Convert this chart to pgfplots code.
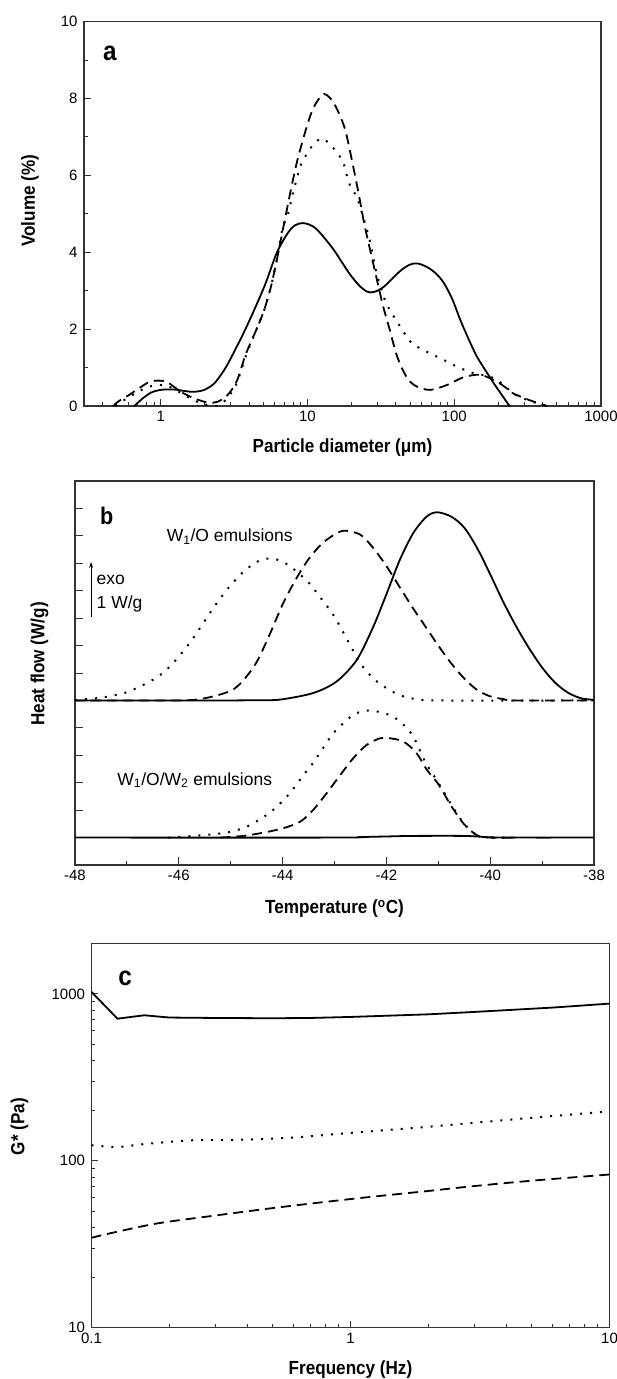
\documentclass[border=0pt]{standalone}
\usepackage{pgfplots}
\pgfplotsset{compat=1.18}
\usepackage{fontspec}
\setmainfont{Liberation Sans}
\newfontfamily\condf[FakeStretch=0.9]{Liberation Sans}
\usetikzlibrary{arrows.meta}
\tikzset{annot/.style={font=\fontsize{17.5}{19}\selectfont}}
\pgfplotsset{
 myaxis/.style={scale only axis, axis line style={line width=1.2pt, black!80},
   every tick/.style={line width=1pt, black!80}, tick pos=left, tick align=inside,
   major tick length=7pt, minor tick length=4pt,
   tick label style={font=\fontsize{15}{17}\selectfont},
   xticklabel style={yshift=-1.5pt},
   yticklabel style={xshift=-3pt},
   label style={font=\condf\bfseries\fontsize{19}{21}\selectfont},
   /pgf/number format/assume math mode=true},
 solidl/.style={black, line width=1.8pt, smooth, tension=0.5},
 dashl/.style={black, line width=1.8pt, dash pattern=on 10pt off 6pt, smooth, tension=0.5},
 dotl/.style={black, line width=2pt, dash pattern=on 2pt off 8pt, smooth, tension=0.5},
}
\begin{document}
\begin{tikzpicture}
% ---------------- panel a
\begin{axis}[myaxis, at={(84pt,-406pt)}, anchor=south west, width=517pt, height=384.3pt,
  xmode=log, xmin=0.3, xmax=1000, ymin=0, ymax=10,
  xtick={1,10,100,1000}, xticklabels={1,10,100,1000},
  minor xtick={0.3,0.4,0.5,0.6,0.7,0.8,0.9,2,3,4,5,6,7,8,9,20,30,40,50,60,70,80,90,200,300,400,500,600,700,800,900},
  ytick={0,2,4,6,8,10}, minor ytick={1,3,5,7,9},
  xlabel={Particle diameter (μm)}, ylabel={Volume (\%)},
  xlabel style={at={([yshift=-42pt]axis description cs:0.5,0)}, anchor=center},
  ylabel style={at={([xshift=-54pt,yshift=13pt]axis description cs:0,0.5)}, anchor=center}]
\addplot[solidl] coordinates {(0.66,0) (0.755,0.2) (0.86,0.35) (1.0,0.42) (1.24,0.43) (1.45,0.39) (1.69,0.37) (1.98,0.42) (2.32,0.59) (2.71,0.94) (3.0,1.24) (3.8,2.02) (5.07,3.10) (6.15,3.97) (7.31,4.49) (8.2,4.70) (9.25,4.76) (10.3,4.72) (11.4,4.62) (13.0,4.38) (15.2,4.05) (17.3,3.72) (19.7,3.40) (23.0,3.10) (26.2,2.96) (30.0,3.0) (34,3.14) (43,3.52) (50,3.68) (56,3.71) (65,3.62) (75,3.45) (85,3.20) (97,2.78) (110,2.24) (126,1.72) (143,1.28) (165,0.90) (186,0.59) (210,0.30) (235,0.03) (240,0)};
\addplot[dashl] coordinates {(0.476,0) (0.51,0.11) (0.61,0.29) (0.71,0.46) (0.84,0.63) (0.98,0.66) (1.12,0.61) (1.37,0.37) (1.69,0.20) (2.09,0.09) (2.44,0.11) (2.86,0.29) (3.3,0.65) (3.8,1.35) (4.57,2.06) (5.07,2.50) (5.63,3.10) (6.25,3.89) (6.93,4.75) (7.7,5.62) (8.54,6.40) (9.73,7.18) (10.8,7.70) (12.0,8.00) (13.0,8.12) (14.2,8.02) (15.6,7.79) (17.8,7.27) (19.2,6.75) (22.1,5.61) (24.5,4.70) (27.7,3.80) (32.4,2.67) (35.9,2.06) (40.9,1.28) (47.9,0.72) (56,0.50) (69,0.42) (89.6,0.55) (116,0.75) (151,0.81) (196,0.63) (235,0.42) (251,0.33) (322,0.16) (412,0.02) (430,0)};
\addplot[dotl] coordinates {(0.49,0) (0.55,0.13) (0.65,0.3) (0.78,0.46) (0.95,0.55) (1.15,0.5) (1.4,0.32) (1.75,0.12) (2.1,0.02) (2.5,0.02) (2.9,0.25) (3.3,0.60) (3.8,1.30) (4.57,2.06) (5.07,2.50) (5.63,3.10) (6.25,3.89) (6.76,4.62) (7.38,5.01) (7.9,5.49) (8.3,5.80) (9.0,6.27) (9.9,6.56) (11.1,6.83) (12.6,6.96) (14.3,6.80) (16,6.58) (17.6,6.32) (19.2,5.80) (22.1,5.35) (26.6,4.30) (29.2,3.54) (34.1,2.71) (40.9,2.19) (50.4,1.67) (60.7,1.47) (80.7,1.24) (105,1.02) (136,0.85) (177,0.76) (218,0.55) (251,0.33) (322,0.14) (412,0.02) (450,0)};
\node[font=\condf\bfseries\fontsize{27}{28}\selectfont] at (rel axis cs:0.05,0.918) {a};
\end{axis}
% ---------------- panel b
\begin{axis}[myaxis, at={(75pt,-865pt)}, anchor=south west, width=519pt, height=384pt,
  xmin=-48, xmax=-38, ymin=0, ymax=14,
  xtick={-48,-46,-44,-42,-40,-38}, xticklabels={-48,-46,-44,-42,-40,-38},
  minor xtick={-47,-45,-43,-41,-39},
  ytick={1,2,3,4,5,6,7,8,9,10,11,12,13}, yticklabels={}, major tick length=8pt,
  xlabel={Temperature (\textsuperscript{o}C)}, ylabel={Heat flow (W/g)},
  xlabel style={at={([yshift=-44pt]axis description cs:0.5,0)}, anchor=center},
  ylabel style={at={([xshift=-35.5pt,yshift=9pt]axis description cs:0,0.5)}, anchor=center}]
\addplot[solidl] coordinates {(-48,6.0) (-46,6.0) (-45,6.0) (-44.5,6.01) (-44.05,6.03) (-43.41,6.27) (-42.96,6.69) (-42.57,7.48) (-42.25,8.70) (-41.99,9.92) (-41.74,11.13) (-41.48,12.11) (-41.22,12.71) (-41.02,12.86) (-40.75,12.7) (-40.5,12.3) (-40.25,11.55) (-40.0,10.6) (-39.75,9.6) (-39.5,8.7) (-39.25,7.9) (-39.0,7.2) (-38.75,6.65) (-38.5,6.28) (-38.25,6.08) (-38.0,6.02)};
\addplot[dashl] coordinates {(-48,6.0) (-46,6.0) (-45.5,6.08) (-45.0,6.35) (-44.75,6.75) (-44.5,7.4) (-44.25,8.4) (-44.0,9.5) (-43.75,10.4) (-43.5,11.15) (-43.25,11.7) (-43.0,12.05) (-42.8,12.19) (-42.5,12.04) (-42.25,11.55) (-42.0,10.9) (-41.75,10.15) (-41.5,9.4) (-41.25,8.7) (-41.0,8.0) (-40.75,7.35) (-40.5,6.8) (-40.25,6.38) (-40.0,6.15) (-39.75,6.05) (-39.5,6.0) (-38,6.0)};
\addplot[dotl] coordinates {(-48,6.02) (-47.5,6.1) (-47,6.3) (-46.5,6.75) (-46.25,7.1) (-46,7.6) (-45.75,8.2) (-45.5,8.9) (-45.25,9.6) (-45,10.2) (-44.75,10.7) (-44.5,11.05) (-44.3,11.17) (-44.1,11.13) (-43.9,10.95) (-43.7,10.65) (-43.5,10.3) (-43.25,9.7) (-43,9.05) (-42.75,8.2) (-42.5,7.35) (-42.25,6.8) (-42,6.45) (-41.75,6.2) (-41.5,6.07) (-41,6.0) (-38,6.0)};
\addplot[solidl] coordinates {(-48,1.0) (-43,1.0) (-42.5,1.02) (-42,1.04) (-41.5,1.06) (-40.5,1.06) (-40,1.01) (-39.5,1.0) (-38,1.0)};
\addplot[dashl] coordinates {(-45.2,1.0) (-44.76,1.06) (-44.37,1.18) (-43.99,1.34) (-43.66,1.58) (-43.41,2.01) (-43.15,2.62) (-42.89,3.28) (-42.64,3.89) (-42.38,4.38) (-42.12,4.62) (-41.93,4.62) (-41.67,4.5) (-41.42,4.08) (-41.22,3.47) (-41.0,2.95) (-40.75,2.15) (-40.5,1.48) (-40.25,1.08) (-40.0,1.0) (-39.5,1.0)};
\addplot[dotl] coordinates {(-46.2,1.0) (-45.72,1.06) (-45.08,1.18) (-44.69,1.4) (-44.31,1.82) (-44.11,2.13) (-43.92,2.49) (-43.76,2.86) (-43.6,3.28) (-43.44,3.65) (-43.18,4.38) (-43.02,4.81) (-42.83,5.17) (-42.64,5.47) (-42.44,5.62) (-42.25,5.62) (-42.06,5.54) (-41.87,5.41) (-41.67,5.11) (-41.48,4.68) (-41.25,3.75) (-41.0,3.0) (-40.75,2.2) (-40.5,1.5) (-40.25,1.08) (-40.0,1.0) (-39.5,1.0)};
\node[font=\condf\bfseries\fontsize{24}{26}\selectfont] at (rel axis cs:0.061,0.909) {b};
\node[anchor=west, annot] at (axis cs:-46.3,11.97) {W\textsubscript{1}/O emulsions};
\node[anchor=west, annot] at (axis cs:-47.25,3.1) {W\textsubscript{1}/O/W\textsubscript{2} emulsions};
\draw[-{Stealth[length=6pt,width=4pt]}, line width=1pt] (axis cs:-47.69,9.05) -- (axis cs:-47.69,11.05);
\node[anchor=west, annot] at (axis cs:-47.65,10.4) {exo};
\node[anchor=west, annot] at (axis cs:-47.65,9.5) {1 W/g};
\end{axis}
% ---------------- panel c
\begin{axis}[myaxis, at={(91.5pt,-1327.7pt)}, anchor=south west, width=518pt, height=384pt,
  xmode=log, ymode=log, xmin=0.1, xmax=10, ymin=10, ymax=2000,
  xtick={0.1,1,10}, xticklabels={0.1,1,10},
  minor xtick={0.2,0.3,0.4,0.5,0.6,0.7,0.8,0.9,2,3,4,5,6,7,8,9},
  ytick={10,100,1000}, yticklabels={10,100,1000},
  minor ytick={20,30,40,50,60,70,80,90,200,300,400,500,600,700,800,900},
  xlabel={Frequency (Hz)}, ylabel={G* (Pa)},
  xlabel style={at={([yshift=-42pt]axis description cs:0.5,0)}, anchor=center},
  ylabel style={at={([xshift=-72pt,yshift=9pt]axis description cs:0,0.5)}, anchor=center}]
\addplot[black, line width=1.8pt] coordinates {(0.1,1028) (0.126,711) (0.16,745) (0.2,722) (0.3,718) (0.5,715) (0.7,718) (1.0,728) (1.2,735) (2,755) (3,780) (6,828) (10,875)};
\addplot[dotl] coordinates {(0.1,124) (0.126,121) (0.16,126) (0.25,133) (0.4,134) (0.6,138) (1,147) (2,160) (3,169) (5,181) (10,198)};
\addplot[dashl] coordinates {(0.1,34.6) (0.12,37) (0.18,42.2) (0.3,47) (0.516,52.4) (1.04,59.4) (2,66) (2.98,70.5) (5,76) (10,82.8)};
\node[font=\condf\bfseries\fontsize{27}{28}\selectfont] at (rel axis cs:0.065,0.911) {c};
\end{axis}
\pgfresetboundingbox
\path[use as bounding box] (0pt,0pt) rectangle (617pt,-1379pt);
\end{tikzpicture}
\end{document}
